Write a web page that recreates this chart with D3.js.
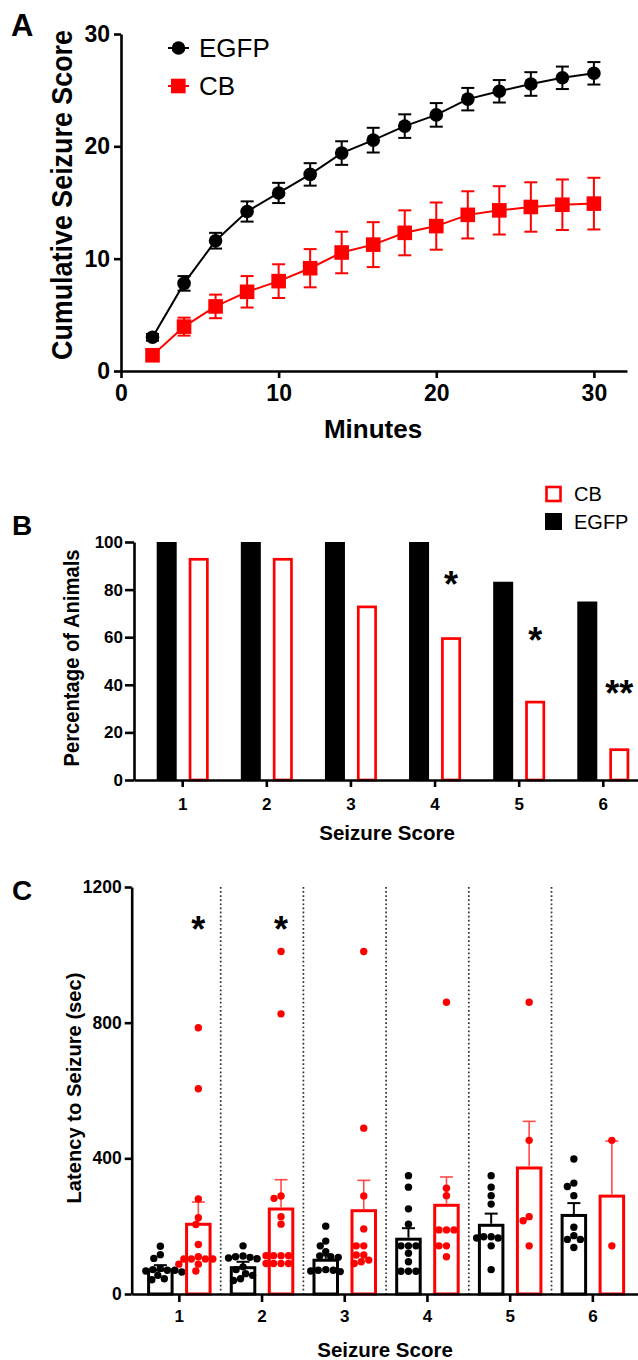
<!DOCTYPE html>
<html lang="en">
<head>
<meta charset="UTF-8">
<title>Seizure scores: EGFP vs CB</title>
<script src="https://d3js.org/d3.v7.min.js"></script>
<style>
  body { margin: 0; background: #fff; }
  svg { display: block; }
</style>
</head>
<body>
<script>
// ---- data ----
// Panel A: cumulative seizure score over time (mean, SEM)
const minutes = [2, 4, 6, 8, 10, 12, 14, 16, 18, 20, 22, 24, 26, 28, 30];
const egfpCumMean = [3.0, 7.8, 11.6, 14.2, 15.85, 17.5, 19.4, 20.55, 21.8, 22.8, 24.2, 24.9, 25.55, 26.1, 26.5];
const egfpCumSem  = [0.3, 0.65, 0.7, 0.9, 0.9, 1.0, 1.05, 1.1, 1.05, 1.05, 1.0, 1.0, 1.05, 1.0, 1.0];
const cbCumMean   = [1.4, 3.95, 5.75, 7.05, 8.0, 9.15, 10.55, 11.25, 12.3, 12.9, 13.9, 14.3, 14.6, 14.8, 14.9];
const cbCumSem    = [0.3, 0.8, 1.05, 1.4, 1.5, 1.7, 1.85, 2.0, 2.0, 2.1, 2.1, 2.15, 2.2, 2.25, 2.3];
const ticksA = [0, 10, 20, 30];

// Panel B: percentage of animals reaching each seizure score
const scores = [1, 2, 3, 4, 5, 6];
const egfpPct = [100, 100, 100, 100, 83.3, 75];
const cbPct   = [93.3, 93.3, 73.3, 60, 33.3, 13.3];
const ticksB  = [0, 20, 40, 60, 80, 100];
const starsB  = [{ score: 4, text: "*", value: 85 }, { score: 5, text: "*", value: 61.5 }, { score: 6, text: "**", value: 39 }];

// Panel C: latency to each seizure score (sec)
const egfpLatMean = [75, 82, 104, 166, 207, 236];
const egfpLatSem  = [10, 13, 10, 28, 30, 32];
const cbLatMean   = [210, 255, 250, 266, 376, 293];
const cbLatSem    = [61, 82, 85, 79, 133, 158];
const egfpLatPts = [
  [141, 116, 105, 75, 72, 70, 70, 68, 65, 55, 45, 42],
  [142, 112, 110, 108, 106, 104, 80, 72, 60, 55, 45, 40],
  [200, 156, 142, 125, 112, 110, 108, 72, 70, 70, 68, 66],
  [349, 315, 251, 206, 142, 142, 142, 120, 95, 67, 67, 67],
  [349, 315, 290, 265, 169, 169, 165, 165, 142, 72],
  [398, 327, 317, 290, 197, 172, 161, 161, 137]
];
const cbLatPts = [
  [785, 605, 280, 225, 205, 146, 110, 103, 103, 103, 103, 88, 88, 68],
  [1010, 826, 289, 282, 228, 206, 113, 113, 113, 113, 90, 90, 90, 90],
  [1010, 489, 289, 192, 142, 142, 115, 115, 100, 95, 90],
  [860, 312, 290, 189, 189, 189, 142, 142, 110],
  [860, 453, 228, 216, 142],
  [453, 142]
];
const ticksC = [0, 400, 800, 1200];
const starsC = [{ score: 1, text: "*", value: 1093 }, { score: 2, text: "*", value: 1093 }];

// ---- drawing ----
const FONT = "'Liberation Sans', Arial, Helvetica, sans-serif";
const RED = "#ff0000";

const svg = d3.select("body").append("svg")
  .attr("width", 638).attr("height", 1360)
  .style("font-family", FONT);

svg.append("rect").attr("width", 638).attr("height", 1360).attr("fill", "#fff");

function styleAxis(g, fontSize) {
  g.attr("font-family", FONT);
  g.select(".domain").attr("stroke-width", 2.6).attr("stroke", "#000");
  g.selectAll(".tick line").attr("stroke-width", 2.6).attr("stroke", "#000");
  g.selectAll(".tick text")
    .attr("font-size", fontSize)
    .attr("font-weight", "bold")
    .attr("fill", "#000");
}

function panelLetter(text, x, y, size) {
  svg.append("text").attr("x", x).attr("y", y)
    .attr("font-size", size).attr("font-weight", "bold").text(text);
}

function yLabel(text, x, y, size, len) {
  const t = svg.append("text")
    .attr("transform", `translate(${x},${y}) rotate(-90)`)
    .attr("text-anchor", "middle")
    .attr("font-size", size).attr("font-weight", "bold")
    .text(text);
  if (len) t.attr("textLength", len).attr("lengthAdjust", "spacingAndGlyphs");
}

function xLabel(text, x, y, size) {
  svg.append("text").attr("x", x).attr("y", y)
    .attr("text-anchor", "middle")
    .attr("font-size", size).attr("font-weight", "bold")
    .text(text);
}

// ================= Panel A =================
const xA = d3.scaleLinear().domain([0, 32.1]).range([121, 627]);
const yA = d3.scaleLinear().domain([0, 30]).range([371, 34]);

const seriesA = [
  { name: "EGFP", mean: egfpCumMean, sem: egfpCumSem, color: "#000", shape: "circle" },
  { name: "CB", mean: cbCumMean, sem: cbCumSem, color: RED, shape: "square" }
];

const gA = svg.append("g");
const capA = 6.5;

seriesA.forEach(s => {
  const pts = minutes.map((m, i) => ({ m, v: s.mean[i], e: s.sem[i] }));

  // error bars
  const eb = gA.append("g").attr("stroke", s.color).attr("stroke-width", 2);
  eb.selectAll("line.v").data(pts).enter().append("line")
    .attr("x1", d => xA(d.m)).attr("x2", d => xA(d.m))
    .attr("y1", d => yA(d.v - d.e)).attr("y2", d => yA(d.v + d.e));
  eb.selectAll("line.t").data(pts).enter().append("line")
    .attr("x1", d => xA(d.m) - capA).attr("x2", d => xA(d.m) + capA)
    .attr("y1", d => yA(d.v + d.e)).attr("y2", d => yA(d.v + d.e));
  eb.selectAll("line.b").data(pts).enter().append("line")
    .attr("x1", d => xA(d.m) - capA).attr("x2", d => xA(d.m) + capA)
    .attr("y1", d => yA(d.v - d.e)).attr("y2", d => yA(d.v - d.e));

  // connecting line
  gA.append("path").datum(pts)
    .attr("fill", "none").attr("stroke", s.color).attr("stroke-width", 2)
    .attr("d", d3.line().x(d => xA(d.m)).y(d => yA(d.v)));

  // markers
  if (s.shape === "circle") {
    gA.selectAll(null).data(pts).enter().append("circle")
      .attr("cx", d => xA(d.m)).attr("cy", d => yA(d.v)).attr("r", 6.8)
      .attr("fill", s.color);
  } else {
    gA.selectAll(null).data(pts).enter().append("rect")
      .attr("x", d => xA(d.m) - 7.3).attr("y", d => yA(d.v) - 7.3)
      .attr("width", 14.6).attr("height", 14.6)
      .attr("fill", s.color);
  }
});

const axAx = svg.append("g").attr("transform", `translate(0,${yA(0)})`)
  .call(d3.axisBottom(xA).tickValues(ticksA).tickSize(7).tickSizeOuter(0).tickPadding(7));
styleAxis(axAx, 23);
const axAy = svg.append("g").attr("transform", `translate(${xA(0)},0)`)
  .call(d3.axisLeft(yA).tickValues(ticksA).tickSize(7).tickSizeOuter(0).tickPadding(4));
styleAxis(axAy, 23);

// legend A
const legA = svg.append("g");
seriesA.forEach((s, i) => {
  const ly = 48 + i * 38;
  legA.append("line").attr("x1", 168).attr("x2", 189).attr("y1", ly).attr("y2", ly)
    .attr("stroke", s.color).attr("stroke-width", 2);
  if (s.shape === "circle") {
    legA.append("circle").attr("cx", 178.5).attr("cy", ly).attr("r", 6.8).attr("fill", s.color);
  } else {
    legA.append("rect").attr("x", 171).attr("y", ly - 7.3).attr("width", 14.6).attr("height", 14.6).attr("fill", s.color);
  }
  legA.append("text").attr("x", 199).attr("y", ly + 9)
    .attr("font-size", 26).text(s.name);
});

panelLetter("A", 11, 36, 31);
yLabel("Cumulative Seizure Score", 72, 195, 29, 330);
xLabel("Minutes", 373, 438, 26);

// ================= Panel B =================
const xB = d3.scaleBand().domain(scores).range([134, 652]).paddingInner(0).paddingOuter(0.079);
const yB = d3.scaleLinear().domain([0, 100]).range([780, 542]);
const subB = d3.scaleBand().domain(["EGFP", "CB"]).range([0, 52]).paddingInner(0.375);
const halfB = 26;
const swB = 2.7;

const gB = svg.append("g");
gB.selectAll("rect.egfp").data(scores.map((s, i) => ({ s, v: egfpPct[i] }))).enter().append("rect")
  .attr("x", d => xB(d.s) + xB.bandwidth() / 2 - halfB + subB("EGFP"))
  .attr("y", d => yB(d.v))
  .attr("width", subB.bandwidth())
  .attr("height", d => yB(0) - yB(d.v))
  .attr("fill", "#000");
gB.selectAll("rect.cb").data(scores.map((s, i) => ({ s, v: cbPct[i] }))).enter().append("rect")
  .attr("x", d => xB(d.s) + xB.bandwidth() / 2 - halfB + subB("CB") + swB / 2)
  .attr("y", d => yB(d.v) + swB / 2)
  .attr("width", subB.bandwidth() - swB)
  .attr("height", d => yB(0) - yB(d.v) - swB / 2)
  .attr("fill", "#fff").attr("stroke", RED).attr("stroke-width", swB);

gB.selectAll("text.star").data(starsB).enter().append("text")
  .attr("x", d => xB(d.score) + xB.bandwidth() / 2 - halfB + subB("CB") + subB.bandwidth() / 2)
  .attr("y", d => yB(d.value) + 19)
  .attr("text-anchor", "middle")
  .attr("font-size", 36).attr("font-weight", "bold")
  .text(d => d.text);

const axBx = svg.append("g").attr("transform", `translate(0,${yB(0)})`)
  .call(d3.axisBottom(xB).tickSize(7).tickSizeOuter(0).tickPadding(11));
styleAxis(axBx, 17);
const axBy = svg.append("g").attr("transform", `translate(${xB.range()[0]},0)`)
  .call(d3.axisLeft(yB).tickValues(ticksB).tickSize(9).tickSizeOuter(0).tickPadding(2));
styleAxis(axBy, 17);

// legend B
const legB = svg.append("g");
legB.append("rect").attr("x", 546.5).attr("y", 487).attr("width", 14).attr("height", 14)
  .attr("fill", "#fff").attr("stroke", RED).attr("stroke-width", 2.6);
legB.append("text").attr("x", 574).attr("y", 501).attr("font-size", 20).text("CB");
legB.append("rect").attr("x", 545).attr("y", 513).attr("width", 17).attr("height", 17)
  .attr("fill", "#000");
legB.append("text").attr("x", 574).attr("y", 529).attr("font-size", 20).text("EGFP");

panelLetter("B", 12, 535, 28);
yLabel("Percentage of Animals", 79, 658, 22, 217);
xLabel("Seizure Score", 387, 840, 20.5);

// ================= Panel C =================
const xC = d3.scaleBand().domain(scores).range([131.7, 640.5]).paddingInner(0).paddingOuter(0.076);
const yC = d3.scaleLinear().domain([0, 1200]).range([1294, 887]);
const subC = d3.scaleBand().domain(["EGFP", "CB"]).range([0, 64.5]).paddingInner(0.3026);
const halfC = 32.25;
const swC = 3;
const rDot = 3.7;

const barCenterC = (s, name) => xC(s) + xC.bandwidth() / 2 - halfC + subC(name) + subC.bandwidth() / 2;

const gC = svg.append("g");

// dotted separators between score groups
gC.selectAll("line.sep").data(scores.slice(1)).enter().append("line")
  .attr("x1", d => xC(d)).attr("x2", d => xC(d))
  .attr("y1", yC(1200)).attr("y2", yC(0))
  .attr("stroke", "#333").attr("stroke-width", 1.7).attr("stroke-dasharray", "1.7 2.4");

// simple beeswarm offsets so overlapping dots spread sideways
function swarm(values, y, r) {
  const placed = [];
  return values.map(v => {
    const py = y(v);
    let off = 0;
    for (let k = 0; k < 200; k++) {
      const cand = (k % 2 === 0 ? 1 : -1) * Math.ceil(k / 2) * 0.5;
      const hit = placed.some(p => {
        const dx = cand - p.off, dy = py - p.py;
        return dx * dx + dy * dy < (2 * r) * (2 * r) * 0.92;
      });
      if (!hit) { off = cand; break; }
    }
    placed.push({ off, py });
    return off;
  });
}

const seriesC = [
  { name: "EGFP", mean: egfpLatMean, sem: egfpLatSem, pts: egfpLatPts, color: "#000", err: "#000", errW: 2 },
  { name: "CB", mean: cbLatMean, sem: cbLatSem, pts: cbLatPts, color: RED, err: "#ff4a4a", errW: 1.6 }
];

seriesC.forEach(s => {
  const data = scores.map((sc, i) => ({ sc, m: s.mean[i], e: s.sem[i], pts: s.pts[i] }));
  const bw = subC.bandwidth();

  // bars (outlined)
  gC.selectAll(null).data(data).enter().append("rect")
    .attr("x", d => barCenterC(d.sc, s.name) - bw / 2 + swC / 2)
    .attr("y", d => yC(d.m) + swC / 2)
    .attr("width", bw - swC)
    .attr("height", d => yC(0) - yC(d.m) - swC / 2)
    .attr("fill", "#fff").attr("stroke", s.color).attr("stroke-width", swC);

  // upward error bar with cap
  gC.selectAll(null).data(data).enter().append("line")
    .attr("x1", d => barCenterC(d.sc, s.name)).attr("x2", d => barCenterC(d.sc, s.name))
    .attr("y1", d => yC(d.m)).attr("y2", d => yC(d.m + d.e))
    .attr("stroke", s.err).attr("stroke-width", s.errW);
  gC.selectAll(null).data(data).enter().append("line")
    .attr("x1", d => barCenterC(d.sc, s.name) - 6.5).attr("x2", d => barCenterC(d.sc, s.name) + 6.5)
    .attr("y1", d => yC(d.m + d.e)).attr("y2", d => yC(d.m + d.e))
    .attr("stroke", s.err).attr("stroke-width", s.errW);

  // individual animals
  data.forEach(d => {
    const offs = swarm(d.pts, yC, rDot);
    gC.selectAll(null).data(d.pts).enter().append("circle")
      .attr("cx", (v, j) => barCenterC(d.sc, s.name) + offs[j])
      .attr("cy", v => yC(v))
      .attr("r", rDot)
      .attr("fill", s.color);
  });
});

gC.selectAll("text.star").data(starsC).enter().append("text")
  .attr("x", d => barCenterC(d.score, "CB"))
  .attr("y", d => yC(d.value) + 19)
  .attr("text-anchor", "middle")
  .attr("font-size", 36).attr("font-weight", "bold")
  .text(d => d.text);

const axCx = svg.append("g").attr("transform", `translate(0,${yC(0)})`)
  .call(d3.axisBottom(xC).tickSize(8).tickSizeOuter(0).tickPadding(8));
styleAxis(axCx, 17);
const axCy = svg.append("g").attr("transform", `translate(${xC.range()[0]},0)`)
  .call(d3.axisLeft(yC).tickValues(ticksC).tickFormat(d3.format("d")).tickSize(7).tickSizeOuter(0).tickPadding(3));
styleAxis(axCy, 17.5);

panelLetter("C", 12, 900, 28);
yLabel("Latency to Seizure (sec)", 81, 1088, 20, 231);
xLabel("Seizure Score", 385, 1357, 20.5);
</script>
</body>
</html>
